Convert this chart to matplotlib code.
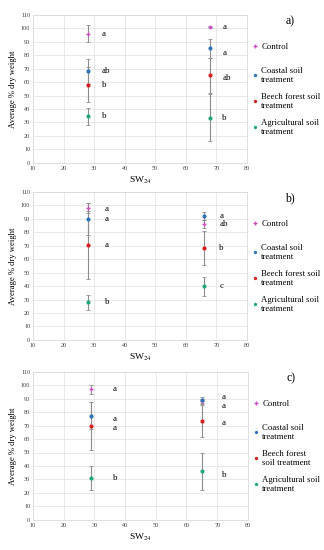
import matplotlib.pyplot as plt
import numpy as np

plt.rcParams['font.family'] = ['Liberation Serif', 'DejaVu Serif']
plt.rcParams['mathtext.fontset'] = 'stix'

# Series names and colours
series = ['Control', 'Coastal soil\ntreatment', 'Beech forest soil\ntreatment',
          'Agricultural soil\ntreatment']
series_c = ['Control', 'Coastal soil\ntreatment', 'Beech forest\nsoil treatment',
            'Agricultural soil\ntreatment']
colors = ['#cc4fc0', '#2e75b6', '#d42020', '#20a878']
markers = ['+', 'o', 'o', 'o']

# Panel a) - rows: Control, Coastal, Beech, Agricultural
a_sw = [28, 68]
a_mean = [[96, 101], [68, 85], [58, 65], [34.5, 33.5]]
a_err = [[6.5, 0.5], [9.5, 7], [13, 13], [6.5, 17.5]]
a_letters = [['a', 'a'], ['ab', 'a'], ['b', 'ab'], ['b', 'b']]

# Panel b)
b_sw = [28, 66]
b_mean = [[98, 86.5], [90, 92], [70.5, 68.5], [28, 40]]
b_err = [[4, 3], [12, 3], [25.5, 12.5], [5.5, 7]]
b_letters = [['a', 'ab'], ['a', 'a'], ['a', 'b'], ['b', 'c']]

# Panel c)
c_sw = [29, 65]
c_mean = [[97, 88], [77.5, 89], [69.5, 73.5], [31, 36]]
c_err = [[3.5, 2], [10, 2.5], [18, 12], [9, 14]]
c_letters = [['a', 'a'], ['a', 'a'], ['a', 'a'], ['b', 'b']]

xticks = np.arange(10, 81, 10)
yticks = np.arange(0, 111, 10)

fig = plt.figure(figsize=(3.24, 5.5), dpi=100)

panels = [
    ('a)', a_sw, a_mean, a_err, a_letters, series, [0.102, 0.704, 0.660, 0.269],
     32.5, [[0, 0], [0, -3], [0, -2], [0, 0]]),
    ('b)', b_sw, b_mean, b_err, b_letters, series, [0.102, 0.382, 0.660, 0.269],
     33.5, [[-1, 0], [0, 0], [0, 0], [0, 0]]),
    ('c)', c_sw, c_mean, c_err, c_letters, series_c, [0.102, 0.055, 0.663, 0.269],
     36, [[0, -3.5], [-2.5, 2], [-1, -1.5], [0, -3]]),
]

for tag, sw, mean, err, letters, names, rect, lx, nudge in panels:
    ax = fig.add_axes(rect)
    for i in range(4):
        ax.errorbar(sw, mean[i], yerr=err[i], fmt='none',
                    ecolor='#8c8c8c', elinewidth=0.8, capsize=1.5, capthick=0.6,
                    zorder=2)
        ax.plot(sw, mean[i], linestyle='none', marker=markers[i], color=colors[i],
                markersize=3.4 if i == 0 else 3, markeredgewidth=1.0 if i == 0 else 0,
                label=names[i], zorder=3)
        for j in range(2):
            x_text = lx if j == 0 else sw[j] + (lx - sw[0]) - 0.5
            ax.text(x_text, mean[i][j] + nudge[i][j], letters[i][j],
                    fontsize=6.5, va='center', ha='left')
    ax.set_xlim(10, 80)
    ax.set_ylim(0, 110)
    ax.set_xticks(xticks)
    ax.set_yticks(yticks)
    ax.tick_params(labelsize=4.5, length=0, pad=2, colors='#404040')
    ax.grid(True, color='#e4e4e4', linewidth=0.6)
    ax.set_axisbelow(True)
    for s in ax.spines.values():
        s.set_color('#d9d9d9')
        s.set_linewidth(0.6)
    ax.set_xlabel('SW$_{24}$', fontsize=6.8, labelpad=3)
    ax.set_ylabel('Average % dry weight', fontsize=6.2, labelpad=3)

    handles, labels = ax.get_legend_handles_labels()
    leg_kw = dict(frameon=False, fontsize=6.3, handlelength=0.4, handletextpad=0.5,
                  labelspacing=1.0, markerscale=0.8, borderaxespad=0.0,
                  borderpad=0.0, loc='center left')
    leg1 = ax.legend(handles[:1], labels[:1], bbox_to_anchor=(1.03, 0.785), **leg_kw)
    ax.add_artist(leg1)
    ax.legend(handles[1:], labels[1:], bbox_to_anchor=(1.03, 0.415), **leg_kw)
    ax.text(1.18, 1.0, tag, transform=ax.transAxes, fontsize=8.5, va='top')

plt.savefig('out.png', dpi=100)
